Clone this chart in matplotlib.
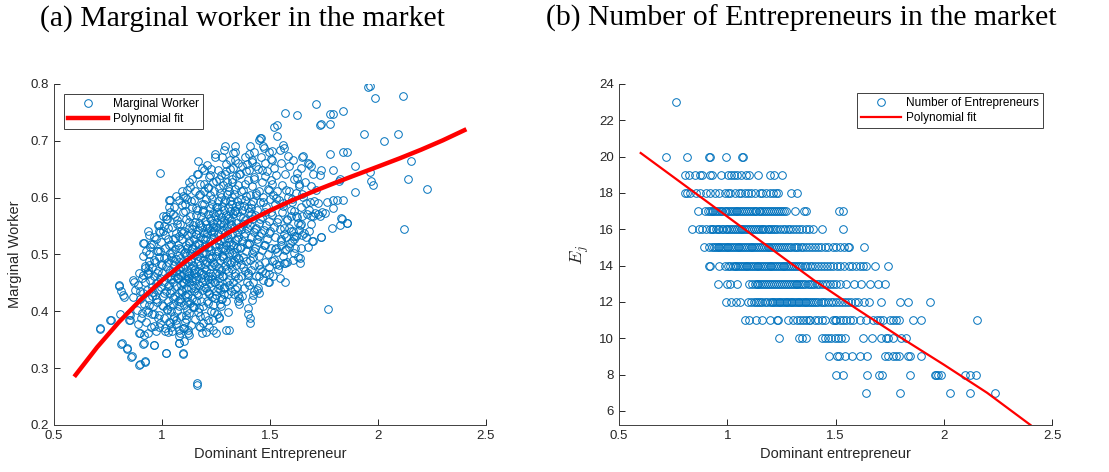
import numpy as np
import matplotlib.pyplot as plt
from matplotlib.ticker import FuncFormatter

# ---- panel (a): dominant entrepreneur vs marginal worker ----
# dense middle of the cloud, roughly column by column
cloud_core = [
    (0.884,0.402),(0.889,0.447),(0.893,0.468),(0.897,0.421),(0.902,0.389),(0.906,0.458),(0.910,0.497),(0.913,0.433),(0.917,0.412),(0.919,0.476),
    (0.922,0.452),(0.925,0.381),(0.928,0.507),(0.931,0.437),(0.934,0.466),(0.936,0.398),(0.939,0.488),(0.942,0.421),(0.945,0.455),(0.948,0.372),(0.951,0.519),(0.953,0.443),(0.956,0.478),(0.958,0.409),
    (0.961,0.462),(0.963,0.395),(0.965,0.531),(0.967,0.428),(0.969,0.487),(0.972,0.449),(0.974,0.366),(0.976,0.506),(0.978,0.417),(0.980,0.471),(0.982,0.438),(0.984,0.552),(0.986,0.393),(0.988,0.496),(0.990,0.458),(0.992,0.379),(0.994,0.522),(0.996,0.443),(0.997,0.483),(0.999,0.411),
    (1.001,0.468),(1.003,0.427),(1.005,0.541),(1.007,0.389),(1.009,0.493),(1.011,0.452),(1.013,0.512),(1.015,0.371),(1.017,0.436),(1.019,0.479),(1.021,0.404),(1.022,0.563),(1.024,0.461),(1.026,0.527),(1.028,0.418),(1.030,0.486),(1.032,0.447),(1.033,0.382),(1.035,0.503),(1.036,0.432),(1.037,0.574),(1.038,0.472),(1.039,0.409),(1.040,0.518),(1.041,0.457),
    (1.042,0.437),(1.043,0.496),(1.045,0.366),(1.046,0.548),(1.048,0.469),(1.049,0.412),(1.051,0.527),(1.052,0.452),(1.054,0.391),(1.055,0.584),(1.057,0.481),(1.058,0.427),(1.060,0.509),(1.061,0.463),(1.063,0.378),(1.064,0.538),(1.066,0.444),(1.067,0.492),(1.069,0.401),(1.070,0.561),(1.072,0.474),(1.073,0.419),(1.075,0.517),(1.076,0.458),(1.077,0.356),(1.078,0.596),(1.079,0.486),(1.079,0.433),(1.080,0.532),(1.080,0.466),
    (1.082,0.478),(1.083,0.421),(1.084,0.553),(1.086,0.447),(1.087,0.392),(1.088,0.509),(1.090,0.462),(1.091,0.611),(1.092,0.435),(1.093,0.527),(1.095,0.371),(1.096,0.489),(1.097,0.452),(1.098,0.574),(1.100,0.411),(1.101,0.503),(1.102,0.466),(1.103,0.541),(1.105,0.428),(1.106,0.589),(1.107,0.482),(1.108,0.381),(1.109,0.517),(1.110,0.456),(1.111,0.441),(1.112,0.562),(1.113,0.497),(1.114,0.403),(1.115,0.534),(1.116,0.471),(1.117,0.418),(1.117,0.598),(1.118,0.512),(1.119,0.459),(1.119,0.362),
    (1.121,0.486),(1.122,0.431),(1.123,0.546),(1.124,0.468),(1.125,0.397),(1.126,0.521),(1.127,0.452),(1.128,0.619),(1.129,0.503),(1.130,0.415),(1.131,0.567),(1.132,0.477),(1.133,0.441),(1.134,0.538),(1.135,0.376),(1.136,0.492),(1.137,0.583),(1.138,0.459),(1.139,0.512),(1.140,0.424),(1.141,0.632),(1.142,0.481),(1.143,0.552),(1.144,0.446),(1.145,0.407),(1.146,0.527),(1.147,0.468),(1.148,0.596),(1.149,0.499),(1.150,0.436),(1.151,0.558),(1.152,0.387),(1.153,0.517),(1.154,0.474),(1.155,0.611),(1.156,0.455),(1.157,0.536),(1.158,0.419),
    (1.161,0.507),(1.162,0.462),(1.163,0.578),(1.164,0.432),(1.165,0.543),(1.166,0.489),(1.167,0.641),(1.168,0.398),(1.169,0.521),(1.170,0.471),(1.171,0.604),(1.172,0.447),(1.173,0.556),(1.174,0.496),(1.175,0.373),(1.176,0.531),(1.177,0.481),(1.178,0.624),(1.179,0.418),(1.180,0.567),(1.181,0.512),(1.182,0.458),(1.183,0.589),(1.184,0.437),(1.185,0.548),(1.186,0.502),(1.187,0.652),(1.188,0.466),(1.189,0.527),(1.190,0.409),(1.191,0.574),(1.192,0.491),(1.193,0.443),(1.194,0.612),(1.195,0.538),(1.196,0.476),(1.197,0.392),(1.198,0.559),(1.199,0.516),(1.199,0.453),
    (1.201,0.528),(1.202,0.472),(1.203,0.597),(1.204,0.441),(1.205,0.553),(1.206,0.503),(1.207,0.658),(1.208,0.418),(1.209,0.537),(1.210,0.486),(1.211,0.618),(1.212,0.457),(1.213,0.571),(1.214,0.514),(1.215,0.384),(1.216,0.546),(1.217,0.493),(1.218,0.636),(1.219,0.432),(1.220,0.582),(1.221,0.524),(1.222,0.467),(1.223,0.604),(1.224,0.449),(1.225,0.561),(1.226,0.508),(1.227,0.401),(1.228,0.479),(1.229,0.542),(1.230,0.426),(1.231,0.589),(1.232,0.498),(1.233,0.463),(1.234,0.627),(1.235,0.556),(1.236,0.487),(1.237,0.411),(1.238,0.573),(1.239,0.531),(1.239,0.452),
    (1.241,0.541),(1.242,0.484),(1.243,0.611),(1.244,0.452),(1.245,0.567),(1.246,0.515),(1.247,0.671),(1.248,0.429),(1.249,0.549),(1.250,0.497),(1.251,0.629),(1.252,0.468),(1.253,0.584),(1.254,0.526),(1.255,0.396),(1.256,0.558),(1.257,0.506),(1.258,0.648),(1.259,0.441),(1.260,0.594),(1.261,0.536),(1.262,0.477),(1.263,0.617),(1.264,0.459),(1.265,0.573),(1.266,0.519),(1.267,0.413),(1.268,0.491),(1.269,0.553),(1.270,0.437),(1.271,0.601),(1.272,0.511),(1.273,0.473),(1.274,0.639),(1.275,0.566),(1.276,0.498),(1.277,0.422),(1.278,0.586),(1.279,0.543),(1.279,0.462),
    (1.281,0.551),(1.282,0.493),(1.283,0.622),(1.284,0.463),(1.285,0.578),(1.286,0.527),(1.287,0.684),(1.288,0.441),(1.289,0.561),(1.290,0.508),(1.291,0.641),(1.292,0.479),(1.293,0.596),(1.294,0.537),(1.295,0.418),(1.296,0.569),(1.297,0.517),(1.298,0.659),(1.299,0.452),(1.300,0.606),(1.301,0.547),(1.302,0.488),(1.303,0.628),(1.304,0.471),(1.305,0.584),(1.306,0.529),(1.307,0.431),(1.308,0.502),(1.309,0.564),(1.310,0.447),(1.311,0.612),(1.312,0.522),(1.313,0.484),(1.314,0.651),(1.315,0.577),(1.316,0.509),(1.317,0.594),(1.318,0.554),
    (1.321,0.561),(1.322,0.503),(1.323,0.633),(1.324,0.474),(1.325,0.588),(1.326,0.536),(1.327,0.678),(1.328,0.452),(1.329,0.571),(1.330,0.517),(1.331,0.652),(1.332,0.489),(1.333,0.607),(1.334,0.546),(1.335,0.431),(1.336,0.579),(1.337,0.526),(1.338,0.667),(1.339,0.463),(1.340,0.616),(1.341,0.556),(1.342,0.498),(1.343,0.638),(1.344,0.481),(1.345,0.594),(1.346,0.539),(1.347,0.443),(1.348,0.512),(1.349,0.574),(1.350,0.458),(1.351,0.623),(1.352,0.531),(1.353,0.494),(1.354,0.661),(1.355,0.587),
    (1.361,0.568),(1.362,0.511),(1.363,0.641),(1.364,0.483),(1.366,0.597),(1.367,0.544),(1.368,0.463),(1.370,0.579),(1.371,0.524),(1.372,0.656),(1.374,0.496),(1.375,0.613),(1.376,0.553),(1.378,0.441),(1.379,0.586),(1.380,0.533),(1.382,0.672),(1.383,0.471),(1.384,0.624),(1.386,0.561),(1.387,0.506),(1.388,0.647),(1.390,0.488),(1.391,0.603),(1.392,0.546),(1.394,0.452),(1.395,0.519),(1.396,0.582),(1.398,0.467),(1.399,0.631),
    (1.401,0.574),(1.403,0.518),(1.404,0.648),(1.406,0.491),(1.407,0.605),(1.409,0.551),(1.410,0.472),(1.412,0.588),(1.413,0.531),(1.415,0.663),(1.416,0.503),(1.418,0.621),(1.419,0.562),(1.421,0.451),(1.422,0.594),(1.424,0.539),(1.425,0.681),(1.427,0.482),(1.428,0.632),(1.430,0.569),(1.431,0.511),(1.433,0.655),(1.434,0.462),(1.436,0.608),(1.437,0.547),(1.439,0.527),
    (1.441,0.579),(1.443,0.522),(1.445,0.651),(1.447,0.497),(1.449,0.612),(1.451,0.556),(1.453,0.474),(1.455,0.593),(1.457,0.537),(1.459,0.672),(1.461,0.508),(1.463,0.627),(1.465,0.566),(1.467,0.455),(1.469,0.601),(1.471,0.543),(1.473,0.688),(1.475,0.486),(1.477,0.638),(1.478,0.574),(1.479,0.517),(1.479,0.661),
    (1.482,0.583),(1.484,0.527),(1.487,0.646),(1.489,0.501),(1.491,0.615),(1.494,0.559),(1.496,0.478),(1.498,0.597),(1.501,0.541),(1.503,0.668),(1.505,0.512),(1.508,0.624),(1.510,0.569),(1.512,0.463),(1.515,0.604),(1.517,0.548),(1.519,0.652),(1.519,0.491),
    (1.522,0.588),(1.525,0.531),(1.528,0.639),(1.531,0.504),(1.534,0.611),(1.537,0.562),(1.540,0.482),(1.543,0.596),(1.546,0.544),(1.549,0.661),(1.552,0.517),(1.555,0.623),(1.557,0.574),(1.559,0.498),
    (1.562,0.591),(1.565,0.536),(1.568,0.642),(1.571,0.508),(1.574,0.614),(1.577,0.561),(1.580,0.487),(1.583,0.601),(1.586,0.547),(1.589,0.656),(1.592,0.521),(1.596,0.578),
    (1.603,0.593),(1.607,0.541),(1.612,0.632),(1.616,0.512),(1.621,0.608),(1.625,0.566),(1.630,0.496),(1.634,0.621),(1.639,0.552),(1.644,0.583),
    (1.652,0.602),(1.658,0.537),(1.664,0.627),(1.671,0.571),(1.678,0.514),(1.686,0.592),
]

# more points of the dense middle, band by band
cloud_bands = [
    (0.906,0.397),(0.941,0.411),(0.983,0.389),(1.022,0.403),(1.049,0.386),(1.086,0.417),(1.113,0.394),(1.146,0.408),(1.178,0.391),(1.211,0.414),(1.239,0.399),(1.271,0.409),(1.306,0.398),
    (0.953,0.427),(0.982,0.451),(1.008,0.433),(1.027,0.445),(1.053,0.424),(1.071,0.458),(1.089,0.437),(1.104,0.449),(1.118,0.426),(1.137,0.455),(1.152,0.441),(1.168,0.429),(1.183,0.452),(1.207,0.436),(1.226,0.457),(1.244,0.423),(1.263,0.447),(1.287,0.431),(1.312,0.455),(1.336,0.439),(1.371,0.427),(1.402,0.447),(1.428,0.436),
    (0.937,0.473),(0.961,0.491),(0.979,0.467),(1.002,0.482),(1.019,0.496),(1.036,0.463),(1.054,0.488),(1.066,0.471),(1.085,0.494),(1.099,0.476),(1.121,0.463),(1.133,0.489),(1.149,0.472),(1.166,0.497),(1.181,0.468),(1.199,0.484),(1.214,0.462),(1.229,0.493),(1.248,0.479),(1.266,0.466),(1.281,0.498),(1.297,0.475),(1.319,0.487),(1.338,0.468),(1.356,0.492),(1.377,0.478),(1.398,0.464),(1.423,0.495),(1.447,0.481),(1.476,0.468),(1.508,0.489),(1.537,0.474),
    (0.946,0.513),(0.972,0.527),(0.993,0.506),(1.012,0.534),(1.031,0.517),(1.047,0.503),(1.062,0.529),(1.078,0.512),(1.094,0.538),(1.108,0.504),(1.126,0.523),(1.141,0.509),(1.157,0.536),(1.172,0.518),(1.188,0.502),(1.203,0.531),(1.219,0.514),(1.236,0.539),(1.251,0.507),(1.267,0.526),(1.284,0.511),(1.301,0.535),(1.318,0.519),(1.333,0.504),(1.349,0.528),(1.367,0.513),(1.385,0.537),(1.404,0.521),(1.426,0.506),(1.449,0.532),(1.472,0.516),(1.497,0.538),(1.524,0.509),(1.553,0.527),(1.588,0.514),(1.611,0.533),
    (0.983,0.551),(1.006,0.567),(1.029,0.546),(1.052,0.571),(1.071,0.553),(1.089,0.541),(1.106,0.576),(1.123,0.558),(1.139,0.544),(1.156,0.569),(1.174,0.552),(1.191,0.578),(1.207,0.547),(1.222,0.565),(1.238,0.549),(1.255,0.574),(1.271,0.557),(1.288,0.543),(1.304,0.568),(1.321,0.551),(1.339,0.577),(1.356,0.548),(1.374,0.564),(1.393,0.556),(1.413,0.572),(1.432,0.545),(1.455,0.563),(1.481,0.551),(1.507,0.575),(1.533,0.557),(1.566,0.546),(1.597,0.568),(1.628,0.555),
    (1.034,0.583),(1.066,0.603),(1.093,0.587),(1.117,0.614),(1.136,0.594),(1.159,0.581),(1.178,0.606),(1.196,0.589),(1.214,0.617),(1.232,0.598),(1.251,0.584),(1.269,0.609),(1.287,0.592),(1.306,0.618),(1.324,0.601),(1.343,0.586),(1.364,0.611),(1.386,0.595),(1.411,0.582),(1.437,0.604),(1.466,0.592),(1.494,0.613),(1.527,0.599),(1.561,0.586),
    (1.126,0.627),(1.163,0.641),(1.196,0.624),(1.229,0.651),(1.262,0.633),(1.297,0.646),(1.326,0.628),(1.358,0.642),(1.393,0.659),(1.426,0.637),(1.461,0.649),(1.503,0.631),
]

# scattered points around the edge of the cloud
cloud_edge = [
    (1.962,0.796),(1.985,0.775),(2.115,0.779),(1.712,0.764),(1.838,0.752),(1.792,0.747),(1.569,0.749),(1.623,0.745),
    (1.738,0.730),(1.780,0.730),(1.531,0.727),(1.534,0.708),(1.458,0.705),(1.450,0.702),(1.935,0.712),(2.095,0.712),
    (2.028,0.699),(1.777,0.676),(1.838,0.680),(1.858,0.680),(1.651,0.673),(1.892,0.655),(1.962,0.645),(2.151,0.665),
    (2.138,0.633),(1.966,0.629),(1.977,0.622),(1.892,0.610),(2.228,0.615),(2.120,0.545),(1.769,0.404),(1.823,0.632),
    (1.792,0.649),(1.738,0.649),(1.731,0.640),(1.700,0.642),(1.692,0.655),(1.677,0.661),(1.808,0.596),(1.838,0.596),
    (1.792,0.596),(1.762,0.593),(1.792,0.582),(1.827,0.564),(1.856,0.556),(1.823,0.551),(1.789,0.546),(1.738,0.530),
    (1.700,0.523),(1.731,0.567),(1.708,0.573),(1.692,0.567),(1.754,0.573),(1.712,0.614),(1.692,0.620),(1.666,0.590),
    (1.646,0.567),(1.635,0.543),(1.646,0.535),(1.638,0.494),(1.638,0.485),(1.608,0.491),(1.569,0.485),(1.569,0.452),
    (1.546,0.458),(1.492,0.452),(1.446,0.441),(1.438,0.438),(1.423,0.429),(1.400,0.405),(1.408,0.389),(1.358,0.423),
    (1.354,0.429),(1.308,0.367),(1.266,0.390),(1.238,0.385),(1.192,0.379),(1.185,0.361),(1.162,0.273),(1.097,0.326),
    (1.100,0.347),(1.085,0.361),(1.077,0.345),(1.020,0.327),(1.015,0.366),(1.038,0.379),(0.962,0.341),(0.923,0.313),
    (0.897,0.307),(0.918,0.345),(0.892,0.362),(0.915,0.358),(0.862,0.321),(0.838,0.335),(0.815,0.344),(0.715,0.370),
    (0.762,0.385),(0.805,0.395),(0.851,0.385),(0.854,0.394),(0.800,0.444),(0.808,0.435),(0.823,0.425),(0.866,0.426),
    (0.872,0.452),(0.900,0.435),(0.915,0.521),(0.938,0.535),(0.923,0.480),(0.938,0.482),(0.989,0.643),(0.989,0.539),
    (1.038,0.596),(1.018,0.567),(1.062,0.567),(1.097,0.603),(1.108,0.602),(1.169,0.664),(1.195,0.649),(1.223,0.640),
    (1.246,0.676),(1.277,0.671),(1.292,0.691),(1.338,0.691),(1.338,0.681),(1.315,0.667),(1.408,0.690),(1.405,0.676),
    (1.454,0.705),(1.415,0.667),(1.469,0.690),(1.494,0.681),(1.508,0.667),(1.546,0.684),(1.558,0.693),(1.585,0.673),
    (1.623,0.643),(1.608,0.667),(1.650,0.672),(1.681,0.659),(1.642,0.653),(1.627,0.635),(1.635,0.624),(1.589,0.612),
    (1.604,0.597),(1.650,0.606),(1.704,0.594),(1.720,0.591),(1.681,0.578),(1.612,0.577),(1.619,0.568),(1.581,0.562),
    (1.642,0.553),(1.689,0.553),(1.720,0.571),(1.519,0.725),(1.565,0.688),(1.511,0.682),(1.666,0.530),(1.596,0.541),
    (1.619,0.532),(1.573,0.530),(1.604,0.524),(1.550,0.524),(1.527,0.512),(1.573,0.509),(1.612,0.503),(1.642,0.512),
    (1.565,0.485),(1.527,0.483),(1.496,0.451),(1.735,0.530),(1.696,0.524),(1.612,0.527),(1.681,0.541),(1.701,0.568),
    (1.742,0.575),(1.835,0.562),(1.855,0.556),(1.820,0.630),(1.776,0.747),(1.730,0.727),(1.955,0.794),
    (0.711,0.369),(0.760,0.384),(0.811,0.343),(0.837,0.334),(0.857,0.319),(0.893,0.305),(0.919,0.311),(0.914,0.343),
    (0.899,0.361),(0.934,0.362),(0.965,0.340),(1.019,0.327),(1.096,0.325),(1.077,0.344),(1.161,0.270),(0.803,0.446),
    (0.819,0.428),(0.865,0.455),(0.911,0.464),(0.934,0.467),(0.873,0.437),(0.846,0.385),(0.888,0.378),(0.849,0.396),
    (0.926,0.402),(0.956,0.396),(0.964,0.375),(0.988,0.372),(1.026,0.364),(1.042,0.372),(1.065,0.384),(1.077,0.367),
    (1.103,0.370),(1.119,0.367),(1.127,0.358),(1.173,0.375),(1.204,0.364),(1.219,0.372),(1.234,0.367),(1.265,0.388),
    (1.296,0.367),(1.250,0.361),(1.350,0.418),(1.357,0.413),(1.419,0.420),(1.400,0.396),(1.406,0.380),(1.447,0.462),
    (1.496,0.465),(1.450,0.433),(1.465,0.471),(1.273,0.421),(1.288,0.442),(1.319,0.436),(1.250,0.436),(1.219,0.430),
    (1.173,0.405),(1.142,0.410),(1.111,0.387),(1.081,0.410),(1.042,0.401),(1.004,0.410),(0.973,0.422),(0.957,0.434),
    (0.934,0.541),(0.911,0.521),(0.957,0.518),(0.988,0.541),(1.019,0.562),(1.034,0.595),(1.011,0.550),(0.942,0.500),
    (0.980,0.506),
]

# polynomial fit curve for (a)
fit_x_a = [0.6, 0.7, 0.8, 0.9, 1.0, 1.1, 1.2, 1.3, 1.4, 1.5, 1.6, 1.7, 1.8, 1.9, 2.0, 2.1, 2.2, 2.3, 2.4]
fit_y_a = [0.2880, 0.3370, 0.3808, 0.4199, 0.4545, 0.4853, 0.5126, 0.5367, 0.5582, 0.5774, 0.5948,
           0.6108, 0.6258, 0.6403, 0.6546, 0.6691, 0.6844, 0.7008, 0.7187]

# ---- panel (b): number of entrepreneurs, one list of x values per count ----
e23 = [0.762]
e20 = [0.716, 0.814, 0.914, 0.918, 0.993, 1.067, 1.073]
e19 = [0.803, 0.823, 0.849, 0.873, 0.885, 0.922, 0.931, 0.973, 1.004, 1.019, 1.030, 1.045, 1.065, 1.088,
       1.100, 1.142, 1.196, 1.216, 1.254]
e18 = [0.803, 0.814, 0.829, 0.854, 0.876, 0.900, 0.922, 0.942, 0.962, 0.988, 1.003, 1.014, 1.034, 1.054,
       1.065, 1.080, 1.096, 1.111, 1.127, 1.150, 1.162, 1.177, 1.196, 1.211, 1.224, 1.234, 1.296, 1.322]
e17 = [0.865, 0.896, 0.911, 0.918, 0.927, 0.934, 0.944, 0.951, 0.962, 0.969, 0.977, 0.988, 0.995, 1.004,
       1.012, 1.021, 1.029, 1.038, 1.046, 1.055, 1.063, 1.074, 1.081, 1.092, 1.099, 1.108, 1.117, 1.126,
       1.134, 1.145, 1.153, 1.162, 1.171, 1.179, 1.188, 1.197, 1.206, 1.214, 1.225, 1.233, 1.244, 1.252,
       1.261, 1.273, 1.311, 1.353, 1.362, 1.516, 1.532]
e16 = [0.837, 0.870, 0.885, 0.900, 0.919, 0.928, 0.936, 0.947, 0.955, 0.963, 0.974, 0.981, 0.992, 0.999,
       1.009, 1.017, 1.026, 1.035, 1.043, 1.052, 1.061, 1.069, 1.078, 1.088, 1.096, 1.104, 1.115, 1.123,
       1.132, 1.141, 1.150, 1.158, 1.167, 1.176, 1.186, 1.194, 1.203, 1.212, 1.222, 1.231, 1.242, 1.256,
       1.268, 1.279, 1.291, 1.305, 1.318, 1.331, 1.347, 1.362, 1.379, 1.396, 1.439, 1.535]
e15 = [0.891, 0.916, 0.931, 0.938, 0.947, 0.955, 0.963, 0.971, 0.980, 0.988, 0.997, 1.005, 1.014, 1.022,
       1.031, 1.039, 1.048, 1.056, 1.065, 1.073, 1.082, 1.091, 1.099, 1.108, 1.116, 1.125, 1.134, 1.142,
       1.151, 1.160, 1.168, 1.177, 1.186, 1.194, 1.203, 1.212, 1.221, 1.230, 1.239, 1.248, 1.257, 1.267,
       1.276, 1.286, 1.296, 1.306, 1.317, 1.328, 1.339, 1.351, 1.363, 1.376, 1.389, 1.403, 1.418, 1.433,
       1.449, 1.465, 1.487, 1.503, 1.520, 1.540, 1.556, 1.562, 1.629]
e14 = [0.914, 0.919, 0.962, 0.990, 1.003, 1.014, 1.025, 1.034, 1.042, 1.051, 1.059, 1.068, 1.076, 1.085,
       1.093, 1.102, 1.110, 1.119, 1.127, 1.136, 1.144, 1.153, 1.161, 1.170, 1.178, 1.187, 1.195, 1.204,
       1.212, 1.221, 1.229, 1.238, 1.246, 1.255, 1.263, 1.272, 1.281, 1.290, 1.299, 1.308, 1.317, 1.327,
       1.337, 1.347, 1.358, 1.369, 1.381, 1.393, 1.405, 1.418, 1.431, 1.445, 1.459, 1.474, 1.489, 1.505,
       1.521, 1.540, 1.560, 1.575, 1.594, 1.611, 1.627, 1.642, 1.681, 1.742]
e13 = [0.957, 0.999, 1.011, 1.045, 1.100, 1.116, 1.126, 1.135, 1.144, 1.153, 1.162, 1.171, 1.180, 1.189,
       1.198, 1.207, 1.216, 1.225, 1.234, 1.243, 1.252, 1.261, 1.270, 1.279, 1.288, 1.297, 1.306, 1.315,
       1.324, 1.333, 1.342, 1.351, 1.361, 1.371, 1.381, 1.391, 1.402, 1.413, 1.425, 1.437, 1.449, 1.462,
       1.476, 1.490, 1.504, 1.519, 1.550, 1.584, 1.619, 1.658, 1.696, 1.727]
e12 = [0.993, 1.019, 1.039, 1.057, 1.096, 1.111, 1.122, 1.131, 1.141, 1.150, 1.162, 1.173, 1.184, 1.196,
       1.205, 1.213, 1.221, 1.229, 1.237, 1.245, 1.253, 1.261, 1.269, 1.277, 1.285, 1.293, 1.301, 1.309,
       1.317, 1.325, 1.333, 1.341, 1.349, 1.357, 1.365, 1.374, 1.383, 1.392, 1.401, 1.411, 1.421, 1.431,
       1.442, 1.453, 1.465, 1.477, 1.489, 1.502, 1.515, 1.529, 1.543, 1.558, 1.573, 1.588, 1.604, 1.630,
       1.655, 1.712, 1.799, 1.835, 1.938]
e11 = [1.080, 1.100, 1.134, 1.162, 1.196, 1.230, 1.234, 1.281, 1.304, 1.322, 1.335, 1.350, 1.365, 1.375,
       1.384, 1.404, 1.419, 1.435, 1.450, 1.488, 1.496, 1.504, 1.519, 1.535, 1.550, 1.565, 1.581, 1.612,
       1.642, 1.673, 1.689, 1.704, 1.719, 1.750, 1.766, 1.781, 1.793, 1.858, 1.896, 2.155]
e10 = [1.239, 1.331, 1.347, 1.362, 1.435, 1.450, 1.465, 1.481, 1.496, 1.512, 1.527, 1.542, 1.627, 1.666,
       1.712, 1.732, 1.743, 1.763, 1.804, 1.824]
e9 = [1.470, 1.507, 1.516, 1.542, 1.578, 1.612, 1.646, 1.727, 1.743, 1.763, 1.781, 1.793, 1.835, 1.846, 1.896]
e8 = [1.501, 1.532, 1.646, 1.701, 1.716, 1.846, 1.958, 1.966, 1.973, 1.989, 2.097, 2.120, 2.147]
e7 = [1.639, 1.796, 2.030, 2.120, 2.235]

counts = [23, 20, 19, 18, 17, 16, 15, 14, 13, 12, 11, 10, 9, 8, 7]
rows = [e23, e20, e19, e18, e17, e16, e15, e14, e13, e12, e11, e10, e9, e8, e7]

# polynomial fit curve for (b)
fit_x_b = [0.6, 0.8, 1.0, 1.2, 1.4, 1.6, 1.8, 2.0, 2.2, 2.4]
fit_y_b = [20.2, 18.45, 16.7, 14.95, 13.2, 11.6, 10.05, 8.55, 7.0, 5.23]

# ---- build arrays ----
pts_a = np.array(cloud_core + cloud_bands + cloud_edge)
dom_a, marg_a = pts_a[:, 0], pts_a[:, 1]
dom_b = np.concatenate([np.array(r) for r in rows])
ent_b = np.concatenate([np.full(len(r), c) for r, c in zip(rows, counts)])

blue = '#0072BD'
axcol = '#262626'
plt.rcParams['font.family'] = ['Liberation Sans', 'DejaVu Sans']
plt.rcParams['mathtext.fontset'] = 'cm'

fig = plt.figure(figsize=(11.09, 4.72), dpi=100)
ax1 = fig.add_axes([0.0487, 0.0996, 0.3895, 0.7225])
ax2 = fig.add_axes([0.5582, 0.0996, 0.3905, 0.7225])

fmt = FuncFormatter(lambda v, p: f'{v:g}')


def style(ax):
    for s in ['top', 'right']:
        ax.spines[s].set_visible(False)
    for s in ['left', 'bottom']:
        ax.spines[s].set_color('#404040')
        ax.spines[s].set_linewidth(0.7)
    ax.tick_params(direction='in', length=4, width=0.7, colors=axcol, labelsize=9.5)
    ax.xaxis.set_major_formatter(fmt)
    ax.yaxis.set_major_formatter(fmt)


# (a)
ax1.plot(dom_a, marg_a, 'o', mfc='none', mec=blue, ms=5.5, mew=0.7, label='Marginal Worker')
ax1.plot(fit_x_a, fit_y_a, '-', color='red', lw=3.2, label='Polynomial fit')
ax1.set_xlim(0.5, 2.5)
ax1.set_ylim(0.2, 0.8)
ax1.set_xticks([0.5, 1, 1.5, 2, 2.5])
ax1.set_yticks([0.2, 0.3, 0.4, 0.5, 0.6, 0.7, 0.8])
style(ax1)
ax1.set_xlabel('Dominant Entrepreneur', fontsize=10.5, color=axcol)
ax1.set_ylabel('Marginal Worker', fontsize=10.5, color=axcol, labelpad=6)
leg1 = ax1.legend(loc='upper left', bbox_to_anchor=(0.023, 0.971), borderaxespad=0, fontsize=8.5,
                  fancybox=False, edgecolor='#404040', framealpha=1, handlelength=3.4,
                  handletextpad=0.4, labelspacing=0.25, borderpad=0.35)
leg1.get_frame().set_linewidth(0.7)

# (b)
ax2.plot(dom_b, ent_b, 'o', mfc='none', mec=blue, ms=5.5, mew=0.7, label='Number of Entrepreneurs')
ax2.plot(fit_x_b, fit_y_b, '-', color='red', lw=1.6, label='Polynomial fit')
ax2.set_xlim(0.5, 2.5)
ax2.set_ylim(5.23, 24)
ax2.set_xticks([0.5, 1, 1.5, 2, 2.5])
ax2.set_yticks(list(range(6, 25, 2)))
style(ax2)
ax2.set_xlabel('Dominant entrepreneur', fontsize=10.5, color=axcol)
ax2.set_ylabel(r'$E_j$', fontsize=13, color=axcol, labelpad=6)
leg2 = ax2.legend(loc='upper right', bbox_to_anchor=(0.979, 0.974), borderaxespad=0, fontsize=8.5,
                  fancybox=False, edgecolor='#404040', framealpha=1, handlelength=3.4,
                  handletextpad=0.4, labelspacing=0.25, borderpad=0.35)
leg2.get_frame().set_linewidth(0.7)

# sub-figure captions
fig.text(0.2187, 0.945, '(a) Marginal worker in the market', ha='center', va='baseline',
         fontsize=21.4, family='Liberation Serif')
fig.text(0.7227, 0.945, '(b) Number of Entrepreneurs in the market', ha='center', va='baseline',
         fontsize=21.4, family='Liberation Serif')

fig.savefig('out.png', dpi=100)
